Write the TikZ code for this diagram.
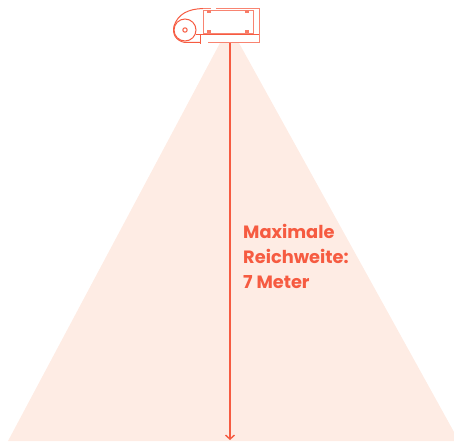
\documentclass[tikz,border=0pt]{standalone}
\usepackage{fontspec}
\setmainfont{Poppins}
\usetikzlibrary{arrows.meta}
\definecolor{accent}{HTML}{F65B41}
\definecolor{cone}{HTML}{FEECE4}
\tikzset{
  cam/.style={draw=accent,line width=1pt},
  camthin/.style={draw=accent!75,line width=0.9pt},
  reacharrow/.style={draw=accent,line width=1.6pt,-{Straight Barb[length=4pt,width=9pt,line width=1.4pt]}},
  lbl/.style={text=accent,font=\fontsize{17.8}{25}\selectfont\bfseries,align=left,anchor=north west,inner sep=0pt}
}
\begin{document}
\begin{tikzpicture}[x=1pt,y=-1pt]
\useasboundingbox (0,0) rectangle (454,441);
\fill[cone] (220,43) -- (239,43) -- (454,432) -- (454,441) -- (8,441) -- cycle;
% camera
\draw[cam] (203,8.5) .. controls (188,9) and (178,14) .. (174,26) .. controls (172,34) and (176,41) .. (185,42.5) -- (200,42.5);
\draw[cam] (185,30) circle (11);
\draw[cam] (185,30) circle (2.2);
\draw[camthin] (203,10) rectangle (253,33);
\draw[camthin] (203,8.5) -- (211,8.5) (216,8.5) -- (259,8.5) -- (259,42.5) -- (208,42.5);
\draw[cam] (196,35) -- (259,35);
\draw[cam] (200,35) -- (200,44);
\foreach \px/\py in {209/11.5,247/11.5,209/32,247/32}
  \fill[accent!80] (\px-2,\py-1.5) rectangle (\px+2,\py+1.5);
\coordinate (camera) at (230,43);
\coordinate (limit) at (230,440);
\draw[reacharrow] (camera) -- (limit);
\node[lbl] (reach) at (243,224) {Maximale\\Reichweite:\\7 Meter};
\end{tikzpicture}
\end{document}
